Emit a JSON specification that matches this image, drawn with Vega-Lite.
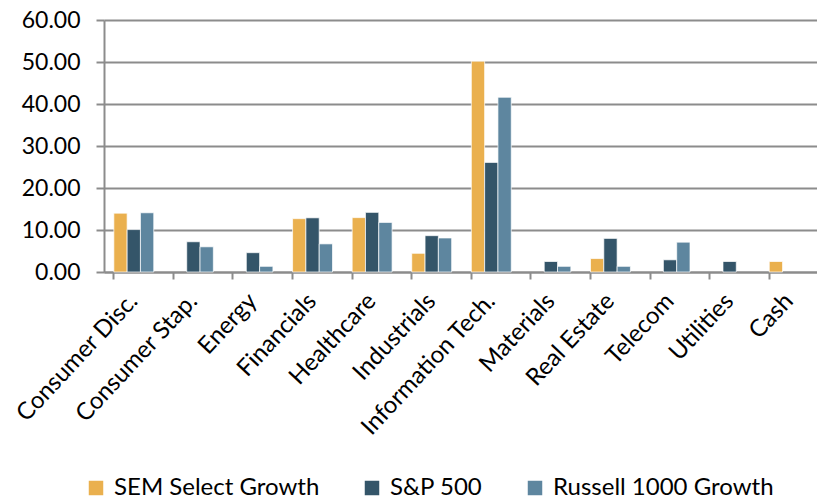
{
  "$schema": "https://vega.github.io/schema/vega-lite/v6.json",
  "autosize": "none",
  "padding": {"left": 104, "top": 20, "right": 0, "bottom": 228},
  "width": 715,
  "height": 252,
  "background": "white",
  "config": {
    "font": "Lato",
    "view": {"stroke": null},
    "axis": {"labelFont": "Lato", "labelColor": "#000000", "domainColor": "#8c8c8c", "tickColor": "#8c8c8c", "gridColor": "#8c8c8c"}
  },
  "data": {
    "values": [
      {"sector": "Consumer Disc.", "series": "SEM Select Growth", "value": 14.0},
      {"sector": "Consumer Disc.", "series": "S&P 500", "value": 10.1},
      {"sector": "Consumer Disc.", "series": "Russell 1000  Growth", "value": 14.1},
      {"sector": "Consumer Stap.", "series": "S&P 500", "value": 7.2},
      {"sector": "Consumer Stap.", "series": "Russell 1000  Growth", "value": 6.0},
      {"sector": "Energy", "series": "S&P 500", "value": 4.6},
      {"sector": "Energy", "series": "Russell 1000  Growth", "value": 1.35},
      {"sector": "Financials", "series": "SEM Select Growth", "value": 12.7},
      {"sector": "Financials", "series": "S&P 500", "value": 12.9},
      {"sector": "Financials", "series": "Russell 1000  Growth", "value": 6.7},
      {"sector": "Healthcare", "series": "SEM Select Growth", "value": 12.95},
      {"sector": "Healthcare", "series": "S&P 500", "value": 14.2},
      {"sector": "Healthcare", "series": "Russell 1000  Growth", "value": 11.8},
      {"sector": "Industrials", "series": "SEM Select Growth", "value": 4.45},
      {"sector": "Industrials", "series": "S&P 500", "value": 8.65},
      {"sector": "Industrials", "series": "Russell 1000  Growth", "value": 8.1},
      {"sector": "Information Tech.", "series": "SEM Select Growth", "value": 50.2},
      {"sector": "Information Tech.", "series": "S&P 500", "value": 26.1},
      {"sector": "Information Tech.", "series": "Russell 1000  Growth", "value": 41.6},
      {"sector": "Materials", "series": "S&P 500", "value": 2.5},
      {"sector": "Materials", "series": "Russell 1000  Growth", "value": 1.35},
      {"sector": "Real Estate", "series": "SEM Select Growth", "value": 3.2},
      {"sector": "Real Estate", "series": "S&P 500", "value": 8.0},
      {"sector": "Real Estate", "series": "Russell 1000  Growth", "value": 1.35},
      {"sector": "Telecom", "series": "S&P 500", "value": 2.9},
      {"sector": "Telecom", "series": "Russell 1000  Growth", "value": 7.1},
      {"sector": "Utilities", "series": "S&P 500", "value": 2.5},
      {"sector": "Cash", "series": "SEM Select Growth", "value": 2.5}
    ]
  },
  "mark": {"type": "bar", "stroke": "#ffffff", "strokeWidth": 1, "strokeOpacity": 0.7},
  "encoding": {
    "x": {
      "field": "sector", "type": "nominal",
      "scale": {"domain": ["Consumer Disc.", "Consumer Stap.", "Energy", "Financials", "Healthcare", "Industrials", "Information Tech.", "Materials", "Real Estate", "Telecom", "Utilities", "Cash"], "paddingInner": 0.33, "paddingOuter": 0.165},
      "axis": {
        "title": null, "labelAngle": -47, "labelAlign": "right", "labelBaseline": "middle",
        "labelFontSize": 24, "labelPadding": 18, "labelLimit": 400, "bandPosition": 0, "tickSize": 7, "tickWidth": 2,
        "domainWidth": 2, "grid": false
      }
    },
    "xOffset": {"field": "series", "type": "nominal", "scale": {"domain": ["SEM Select Growth", "S&P 500", "Russell 1000  Growth"], "paddingInner": 0}},
    "y": {
      "field": "value", "type": "quantitative",
      "scale": {"domain": [0, 60], "nice": false},
      "axis": {
        "title": null, "values": [0, 10, 20, 30, 40, 50, 60], "format": ".2f",
        "labelFontSize": 23, "labelPadding": 16, "tickSize": 8, "tickWidth": 2,
        "grid": true, "gridWidth": 2, "domainWidth": 2
      }
    },
    "color": {
      "field": "series", "type": "nominal",
      "scale": {"domain": ["SEM Select Growth", "S&P 500", "Russell 1000  Growth"], "range": ["#EAB04E", "#345569", "#5E869F"]},
      "legend": {
        "title": null, "orient": "none", "direction": "horizontal", "legendX": -20, "legendY": 456,
        "symbolType": "square", "symbolSize": 210, "symbolStrokeWidth": 0, "labelFontSize": 24, "labelLimit": 400,
        "labelColor": "#000000", "columnPadding": 40, "labelOffset": 6
      }
    }
  }
}
